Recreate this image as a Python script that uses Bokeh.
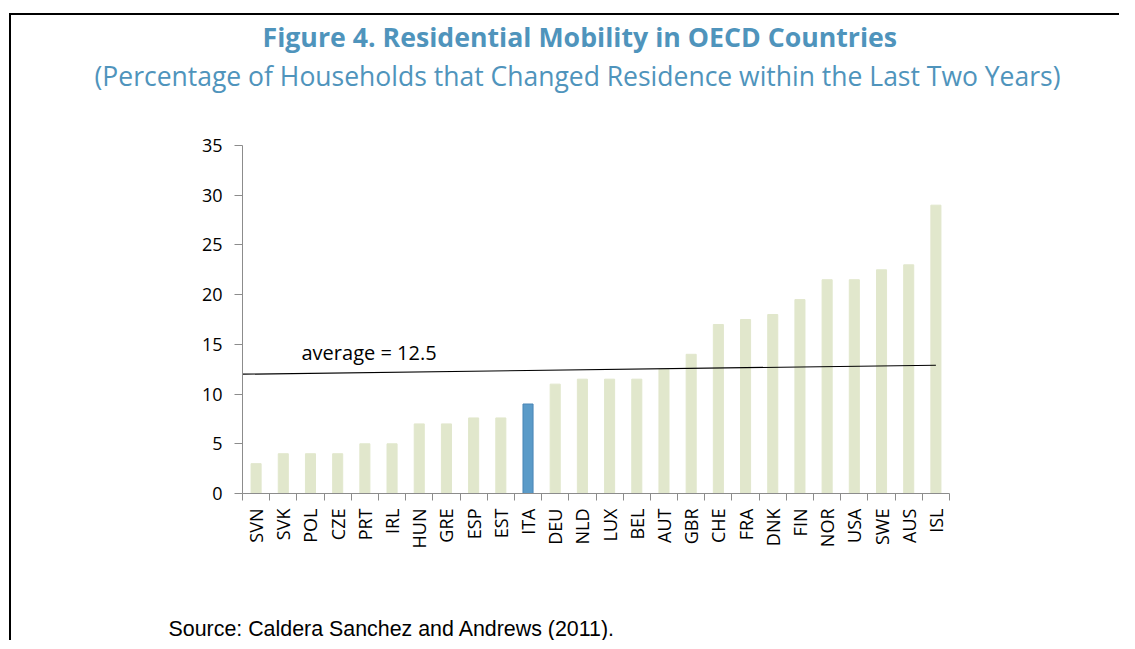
import numpy as np
from bokeh.plotting import figure
from bokeh.models import Range1d, FixedTicker, Label, Title, ColumnDataSource
from bokeh.embed import file_html
from bokeh.resources import INLINE

countries = ["SVN", "SVK", "POL", "CZE", "PRT", "IRL", "HUN", "GRE", "ESP", "EST",
             "ITA", "DEU", "NLD", "LUX", "BEL", "AUT", "GBR", "CHE", "FRA", "DNK",
             "FIN", "NOR", "USA", "SWE", "AUS", "ISL"]
mobility = [3.0, 4.0, 4.0, 4.0, 5.0, 5.0, 7.0, 7.0, 7.6, 7.6,
            9.0, 11.0, 11.5, 11.5, 11.5, 12.5, 14.0, 17.0, 17.5, 18.0,
            19.5, 21.5, 21.5, 22.5, 23.0, 29.0]
highlight = "ITA"
avg_line_start = 12.0   # value of the drawn average line at the left axis
avg_line_end = 12.9     # value of the drawn average line at the last bar
avg_label = "average = 12.5"
y_ticks = [0, 5, 10, 15, 20, 25, 30, 35]

title_text = "Figure 4. Residential Mobility in OECD Countries"
subtitle_text = "(Percentage of Households that Changed Residence within the Last Two Years)"
source_text = "Source: Caldera Sanchez and Andrews (2011)."

FONT = "Open Sans"
TITLE_COL = "#4f94bc"
BAR_COL = "#e1e7cc"
HI_COL = "#5b9bc8"
AXIS_COL = "#8c8c8c"

n = len(countries)
xc = np.arange(n) + 0.5
colors = [HI_COL if c == highlight else BAR_COL for c in countries]
lcolors = ["#4a86b6" if c == highlight else BAR_COL for c in countries]
src = ColumnDataSource(dict(x=xc, top=mobility, color=colors, lcolor=lcolors, name=countries))

p = figure(frame_width=707, frame_height=348, output_backend="svg", toolbar_location=None,
           x_range=Range1d(0, n), y_range=Range1d(0, 35),
           min_border_left=231, min_border_right=170, min_border_bottom=0, min_border_top=0)
p.outline_line_color = None
p.grid.grid_line_color = None
p.background_fill_color = "white"
p.border_fill_color = "white"
p.margin = (13, 0, 0, 9)
p.styles = {"border-top": "2px solid black", "border-left": "2px solid black"}

p.vbar(x="x", top="top", width=0.37, bottom=0, source=src,
       fill_color="color", line_color="lcolor", line_width=1)

# average line
p.line(x=[0, xc[-1]], y=[avg_line_start, avg_line_end], line_color="black", line_width=1.2)
p.add_layout(Label(x=2.17, y=14.2, text=avg_label, text_font=FONT, text_font_size="20px",
                   text_color="black", text_baseline="middle", text_align="left"))

# y axis
p.yaxis.ticker = FixedTicker(ticks=y_ticks)
p.yaxis.axis_line_color = AXIS_COL
p.yaxis.major_tick_line_color = AXIS_COL
p.yaxis.major_tick_out = 8
p.yaxis.major_tick_in = 0
p.yaxis.minor_tick_line_color = None
p.yaxis.major_label_text_font = FONT
p.yaxis.major_label_text_font_size = "18px"
p.yaxis.major_label_text_color = "black"
p.yaxis.major_label_standoff = 12

# x axis: labels at centers, ticks at category boundaries
p.xaxis.ticker = FixedTicker(ticks=list(xc), minor_ticks=list(np.arange(n + 1)))
p.xaxis.major_label_overrides = {float(x): c for x, c in zip(xc, countries)}
p.xaxis.major_tick_line_color = None
p.xaxis.minor_tick_line_color = AXIS_COL
p.xaxis.minor_tick_out = 7
p.xaxis.minor_tick_in = 0
p.xaxis.axis_line_color = AXIS_COL
p.xaxis.major_label_orientation = np.pi / 2
p.xaxis.major_label_text_font = FONT
p.xaxis.major_label_text_font_size = "18px"
p.xaxis.major_label_text_color = "black"
p.xaxis.major_label_standoff = 8

def spacer(h):
    return Title(text=" ", text_font_size="1px", standoff=h)

# below: spacer then source
p.add_layout(spacer(60), "below")
p.add_layout(Title(text=source_text, align="left", offset=-74, text_font="Liberation Sans",
                   text_font_size="21.4px", text_font_style="normal", text_color="black",
                   standoff=0), "below")

# above (added from the frame outward)
p.add_layout(spacer(48), "above")
p.add_layout(Title(text=subtitle_text, align="left", offset=-148, text_font=FONT,
                   text_font_size="26.5px", text_font_style="normal", text_color=TITLE_COL,
                   standoff=2), "above")
p.add_layout(Title(text=title_text, align="left", offset=20, text_font=FONT,
                   text_font_size="26.7px", text_font_style="bold", text_color=TITLE_COL,
                   standoff=0), "above")

open("out.html", "w").write(file_html(p, INLINE))
